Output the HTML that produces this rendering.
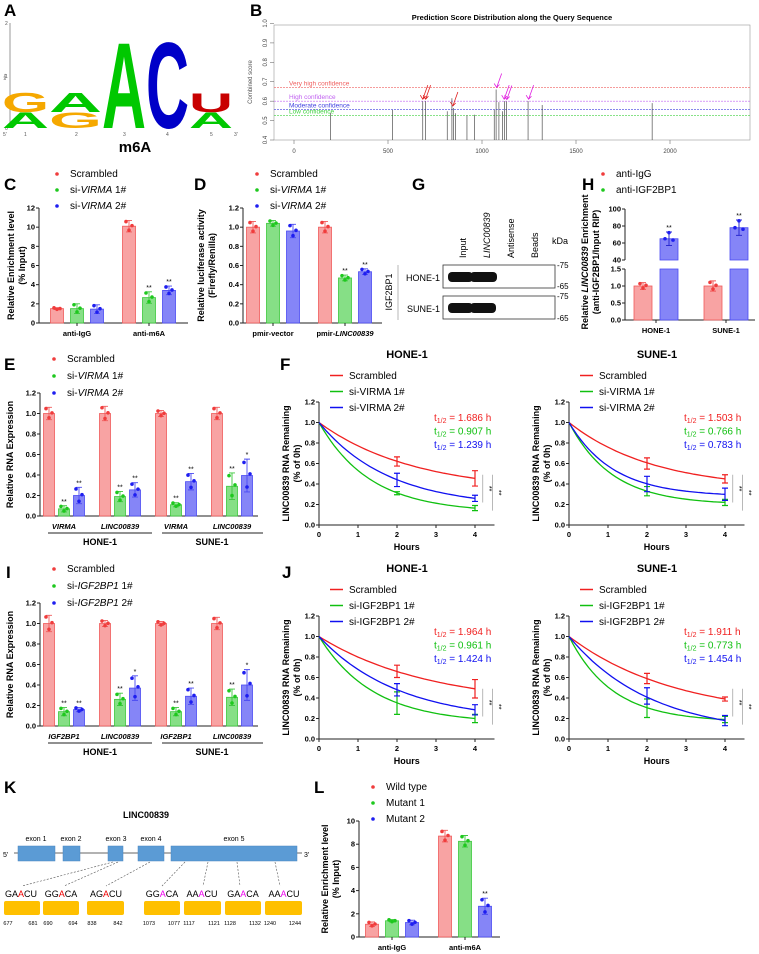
<!DOCTYPE html>
<html><head><meta charset="utf-8"><style>
body{margin:0;background:#fff}
svg{display:block;font-family:"Liberation Sans",Arial,sans-serif}
.pl{font-size:17px;font-weight:bold}
.tk{font-size:7.5px;font-weight:bold}
.lg{font-size:10px}
.at{font-size:9px;font-weight:bold}
</style></head><body>
<svg id="fig" xmlns="http://www.w3.org/2000/svg" width="759" height="954" viewBox="0 0 759 954">
<!-- Panel labels -->
<g>
<text class="pl" x="4" y="16">A</text>
<text class="pl" x="250" y="16">B</text>
<text class="pl" x="4" y="190">C</text>
<text class="pl" x="194" y="190">D</text>
<text class="pl" x="412" y="190">G</text>
<text class="pl" x="582" y="190">H</text>
<text class="pl" x="4" y="370">E</text>
<text class="pl" x="280" y="370">F</text>
<text class="pl" x="6" y="578">I</text>
<text class="pl" x="282" y="578">J</text>
<text class="pl" x="4" y="793">K</text>
<text class="pl" x="314" y="793">L</text>
</g>
<!-- Panel A: sequence logo -->
<g id="logo">
<line x1="10" y1="23" x2="10" y2="128" stroke="#555" stroke-width="0.6"/>
<text x="5" y="25" font-size="5" fill="#555">2</text><text x="5" y="78" font-size="5" fill="#555">1</text><text x="5" y="130" font-size="5" fill="#555">0</text>
<text x="6" y="80" font-size="4" fill="#555" transform="rotate(-90 6 80)">bits</text>
<text x="3" y="136" font-size="5" fill="#555">5'</text><text x="234" y="136" font-size="5" fill="#555">3'</text>
<text x="24" y="136" font-size="5" fill="#555">1</text><text x="75" y="136" font-size="5" fill="#555">2</text><text x="123" y="136" font-size="5" fill="#555">3</text><text x="166" y="136" font-size="5" fill="#555">4</text><text x="210" y="136" font-size="5" fill="#555">5</text>
<text x="135" y="152" font-size="15" font-weight="bold" text-anchor="middle">m6A</text>
</g>
<!-- Panel B -->
<g id="pb">
<text x="512" y="20" font-size="7.5" font-weight="bold" text-anchor="middle">Prediction Score Distribution along the Query Sequence</text>
<rect x="274" y="25" width="476" height="115" fill="none" stroke="#999" stroke-width="0.6"/>
<text x="252" y="82" font-size="6" fill="#555" text-anchor="middle" transform="rotate(-90 252 82)">Combined score</text>
</g>
<!-- Panel G blot -->
<g id="pg">
<text x="466" y="258" font-size="9" transform="rotate(-90 466 258)">Input</text>
<text x="490" y="258" font-size="9" font-style="italic" transform="rotate(-90 490 258)">LINC00839</text>
<text x="514" y="258" font-size="9" transform="rotate(-90 514 258)">Antisense</text>
<text x="538" y="258" font-size="9" transform="rotate(-90 538 258)">Beads</text>
<text x="552" y="244" font-size="9">kDa</text>
<rect x="443" y="265" width="112" height="23" fill="#fff" stroke="#333" stroke-width="0.8"/>
<rect x="443" y="296" width="112" height="23" fill="#fff" stroke="#333" stroke-width="0.8"/>
<rect x="448" y="272" width="25" height="10" rx="4" fill="#111"/><rect x="470" y="272" width="27" height="10" rx="4" fill="#111"/>
<rect x="448" y="303" width="25" height="10" rx="4" fill="#111"/><rect x="470" y="303" width="26" height="10" rx="4" fill="#111"/>
<text x="440" y="281" font-size="9" text-anchor="end">HONE-1</text>
<text x="440" y="312" font-size="9" text-anchor="end">SUNE-1</text>
<line x1="398" y1="265" x2="398" y2="320" stroke="#999" stroke-width="0.7"/>
<text x="392" y="292" font-size="9" text-anchor="middle" transform="rotate(-90 392 292)">IGF2BP1</text>
<g font-size="8"><text x="557" y="268">-75</text><text x="557" y="289">-65</text><text x="557" y="299">-75</text><text x="557" y="321">-65</text></g>
</g>
<!-- Panel K -->
<g id="pk">
<text x="146" y="818" font-size="9" font-weight="bold" text-anchor="middle">LINC00839</text>
<line x1="14" y1="853" x2="302" y2="853" stroke="#666" stroke-width="1"/>
<text x="3" y="857" font-size="7">5'</text><text x="304" y="857" font-size="7">3'</text>
<g fill="#5b9bd5" stroke="#4a86c0" stroke-width="0.5">
<rect x="18" y="846" width="37" height="15"/>
<rect x="63" y="846" width="17" height="15"/>
<rect x="108" y="846" width="15" height="15"/>
<rect x="138" y="846" width="26" height="15"/>
<rect x="171" y="846" width="126" height="15"/>
</g>
<g font-size="7" text-anchor="middle"><text x="36" y="841">exon 1</text><text x="71" y="841">exon 2</text><text x="116" y="841">exon 3</text><text x="151" y="841">exon 4</text><text x="234" y="841">exon 5</text></g>
<g stroke="#555" stroke-width="0.6" stroke-dasharray="2,1.5" fill="none">
<line x1="113" y1="862" x2="22" y2="886"/><line x1="118" y1="862" x2="64" y2="886"/><line x1="150" y1="862" x2="106" y2="886"/>
<line x1="185" y1="862" x2="162" y2="886"/><line x1="208" y1="862" x2="203" y2="886"/><line x1="237" y1="862" x2="240" y2="886"/><line x1="275" y1="862" x2="280" y2="886"/>
</g>
<g font-size="9" text-anchor="middle">
<text x="21" y="897">GA<tspan fill="#e00">A</tspan>CU</text>
<text x="61" y="897">GG<tspan fill="#e00">A</tspan>CA</text>
<text x="106" y="897">AG<tspan fill="#e00">A</tspan>CU</text>
<text x="162" y="897">GG<tspan fill="#e0e">A</tspan>CA</text>
<text x="202" y="897">AA<tspan fill="#e0e">A</tspan>CU</text>
<text x="243" y="897">GA<tspan fill="#e0e">A</tspan>CA</text>
<text x="284" y="897">AA<tspan fill="#e0e">A</tspan>CU</text>
</g>
<g fill="#ffc000">
<rect x="4" y="901" width="36" height="14" rx="2"/><rect x="43" y="901" width="36" height="14" rx="2"/><rect x="87" y="901" width="37" height="14" rx="2"/>
<rect x="144" y="901" width="36" height="14" rx="2"/><rect x="184" y="901" width="37" height="14" rx="2"/><rect x="225" y="901" width="36" height="14" rx="2"/><rect x="265" y="901" width="37" height="14" rx="2"/>
</g>
<g font-size="5.5" text-anchor="middle">
<text x="8" y="925">677</text><text x="33" y="925">681</text><text x="48" y="925">690</text><text x="73" y="925">694</text><text x="92" y="925">838</text><text x="118" y="925">842</text>
<text x="149" y="925">1073</text><text x="174" y="925">1077</text><text x="189" y="925">1117</text><text x="214" y="925">1121</text><text x="230" y="925">1128</text><text x="255" y="925">1132</text><text x="270" y="925">1240</text><text x="295" y="925">1244</text>
</g>
</g>
</svg>
<script>
// ---------- DATA ----------
// Panel B
const B_positions=[195,525,685,700,815,840,848,860,920,960,1065,1075,1090,1110,1120,1130,1245,1320,1905];
const B_scores=[0.54,0.555,0.60,0.60,0.548,0.615,0.565,0.538,0.527,0.53,0.555,0.66,0.595,0.548,0.60,0.598,0.60,0.58,0.59];
const B_thresholds=[0.67,0.60,0.557,0.525];
const B_thresholdLabels=['Very high confidence','High confidence','Moderate confidence','Low confidence'];
const B_yTicks=[0.4,0.5,0.6,0.7,0.8,0.9,1.0];
const B_xTicks=[0,500,1000,1500,2000];
const B_redArrows=[685,700,845];
const B_magArrows=[1078,1118,1132,1248];
// Panel C
const C_cats=['anti-IgG','anti-m6A'];
const C_scr=[1.5,10.1], C_si1=[1.5,2.65], C_si2=[1.45,3.4];
const C_err_scr=[0.1,0.6], C_err_si1=[0.5,0.6], C_err_si2=[0.45,0.45];
const C_stars_si1=['','**'], C_stars_si2=['','**'];
const C_ticks=[0,2,4,6,8,10,12];
// Panel D
const D_cats=['pmir-vector','pmir-LINC00839'];
const D_scr=[1.0,1.0], D_si1=[1.04,0.47], D_si2=[0.96,0.535];
const D_err_scr=[0.06,0.06], D_err_si1=[0.03,0.03], D_err_si2=[0.07,0.03];
const D_stars_si1=['','**'], D_stars_si2=['','**'];
const D_ticks=[0,0.2,0.4,0.6,0.8,1.0,1.2];
// Panel H
const H_cats=['HONE-1','SUNE-1'];
const H_igg=[1.0,1.0], H_igf=[65,78];
const H_err_igg=[0.1,0.15], H_err_igf=[8,9];
const H_lowTicks=[0,0.5,1.0,1.5], H_highTicks=[40,60,80,100];
// Panel E
const E_genes=['VIRMA','LINC00839','VIRMA','LINC00839'];
const E_cells=['HONE-1','SUNE-1'];
const E_scr=[1.0,1.0,1.0,1.0], E_si1=[0.07,0.19,0.11,0.29], E_si2=[0.20,0.255,0.335,0.395];
const E_err_scr=[0.06,0.07,0.03,0.06], E_err_si1=[0.03,0.05,0.02,0.13], E_err_si2=[0.08,0.07,0.08,0.16];
const E_stars_si1=['**','**','**','**'], E_stars_si2=['**','**','**','*'];
const EI_ticks=[0,0.2,0.4,0.6,0.8,1.0,1.2];
// Panel I
const I_genes=['IGF2BP1','LINC00839','IGF2BP1','LINC00839'];
const I_scr=[1.0,1.0,1.0,1.0], I_si1=[0.14,0.26,0.14,0.28], I_si2=[0.16,0.37,0.29,0.40];
const I_err_scr=[0.08,0.03,0.02,0.06], I_err_si1=[0.04,0.06,0.04,0.08], I_err_si2=[0.02,0.12,0.08,0.15];
const I_stars_si1=['**','**','**','**'], I_stars_si2=['**','*','**','*'];
// Panel F/J decay
const decayHours=[0,2,4];
const F_hone_half=[1.686,0.907,1.239], F_sune_half=[1.503,0.766,0.783];
const F_hone_red=[1,0.62,0.455], F_hone_green=[1,0.31,0.165], F_hone_blue=[1,0.44,0.26];
const F_hone_red_err=[0,0.045,0.075], F_hone_green_err=[0,0.015,0.025], F_hone_blue_err=[0,0.065,0.03];
const F_sune_red=[1,0.60,0.45], F_sune_green=[1,0.33,0.22], F_sune_blue=[1,0.40,0.30];
const F_sune_red_err=[0,0.055,0.04], F_sune_green_err=[0,0.045,0.03], F_sune_blue_err=[0,0.075,0.06];
const J_hone_half=[1.964,0.961,1.424], J_sune_half=[1.911,0.773,1.454];
const J_hone_red=[1,0.66,0.49], J_hone_green=[1,0.35,0.20], J_hone_blue=[1,0.48,0.285];
const J_hone_red_err=[0,0.06,0.09], J_hone_green_err=[0,0.11,0.04], J_hone_blue_err=[0,0.06,0.05];
const J_sune_red=[1,0.59,0.39], J_sune_green=[1,0.30,0.19], J_sune_blue=[1,0.42,0.18];
const J_sune_red_err=[0,0.05,0.02], J_sune_green_err=[0,0.09,0.03], J_sune_blue_err=[0,0.08,0.05];
const decayTicksX=[0,1,2,3,4], decayTicksY=[0,0.2,0.4,0.6,0.8,1.0,1.2];
// Panel L
const L_cats=['anti-IgG','anti-m6A'];
const L_wt=[1.1,8.7], L_m1=[1.4,8.25], L_m2=[1.25,2.65];
const L_err_wt=[0.2,0.5], L_err_m1=[0.1,0.5], L_err_m2=[0.2,0.7];
const L_stars_m1=['',''], L_stars_m2=['','**'];
const L_ticks=[0,2,4,6,8,10];

// ---------- DRAWING ----------
const NS='http://www.w3.org/2000/svg';
const svg=document.getElementById('fig');
const FILL=['#f8a3a3','#86df86','#8585f7'], STROKE=['#f05a5a','#3cc83c','#4a4af2'], DOT=['#f03c3c','#1ec81e','#1e1ef0'];
const LINE=['#f02020','#10c010','#1010f0'];
function mk(tag,attrs,parent){const e=document.createElementNS(NS,tag);for(const k in attrs)e.setAttribute(k,attrs[k]);(parent||svg).appendChild(e);return e;}
function txt(s,x,y,attrs,parent){const t=mk('text',Object.assign({x:x,y:y},attrs||{}),parent);t.textContent=s;return t;}
function fmt(v,d){return v.toFixed(d);}

// Logo letters
(function(){
 const g=document.getElementById('logo');
 const L=[['G',2,49,92,112,'#f5a800'],['A',2,49,112,128,'#00c800'],['A',49,102,92,112,'#00c800'],['G',49,102,112,128,'#f5a800'],
 ['A',102,146,40,128,'#00c800'],['C',146,189,40,128,'#0000c8'],['U',189,233,93,112,'#c80000'],['A',189,233,112,128,'#00c800']];
 L.forEach(l=>{const w=l[2]-l[1],h=l[4]-l[3];const gw={A:72.2,C:72.2,G:77.8,U:72.2}[l[0]];
  const t=txt(l[0],0,0,{'font-size':100,'font-weight':'bold',fill:l[5],transform:`translate(${l[1]},${l[4]}) scale(${w/gw},${h/72})`},g);
  
  });
})();

// Panel B
(function(){
 const g=document.getElementById('pb');
 const x=v=>294+v*0.188, y=v=>140-(v-0.4)/0.6*116.5;
 B_yTicks.forEach(v=>{mk('line',{x1:270,x2:274,y1:y(v),y2:y(v),stroke:'#555','stroke-width':0.5},g);
  const t=txt(fmt(v,1),267,y(v),{'font-size':6,fill:'#444','text-anchor':'middle',transform:`rotate(-90 267 ${y(v)})`},g);
  
  });
 B_xTicks.forEach(v=>{mk('line',{x1:x(v),x2:x(v),y1:140,y2:144,stroke:'#555','stroke-width':0.5},g);
  const t=txt(String(v),x(v),153,{'font-size':6,fill:'#444','text-anchor':'middle'},g);
  
  });
 const tc=['#f06060','#c060f0','#4040e0','#40d040'];
 B_thresholds.forEach((v,i)=>{const l=mk('line',{x1:274,x2:750,y1:y(v),y2:y(v),stroke:tc[i],'stroke-width':0.6,'stroke-dasharray':'2,1'},g);
  
  
  const t=txt(B_thresholdLabels[i],289,y(v)-2,{'font-size':6.5,fill:tc[i]},g);
  
  });
 B_positions.forEach((p,i)=>{const l=mk('line',{x1:x(p),x2:x(p),y1:140,y2:y(B_scores[i]),stroke:'#333','stroke-width':0.6},g);
  
  });
 function arrow(p,col,yv){const xx=x(p),yy=y(yv)-2;const l=mk('path',{d:`M${xx+5} ${yy-14} L${xx} ${yy} M${xx-2.5} ${yy-4} L${xx} ${yy} L${xx+2.8} ${yy-3}`,stroke:col,'stroke-width':0.8,fill:'none'},g);
  
  }
 B_redArrows.forEach(p=>{let i=B_positions.reduce((b,q,k)=>Math.abs(q-p)<Math.abs(B_positions[b]-p)?k:b,0);arrow(p,'#e02020',B_scores[i]);});
 B_magArrows.forEach(p=>{let i=B_positions.reduce((b,q,k)=>Math.abs(q-p)<Math.abs(B_positions[b]-p)?k:b,0);arrow(p,'#e020e0',B_scores[i]);});
})();

function legendDots(x,y0,step,labels,italics){labels.forEach((s,i)=>{
 const c=mk('circle',{cx:x,cy:y0+i*step-3,r:1.8,fill:DOT[i]});
 
 
 const t=mk('text',{x:x+13,y:y0+i*step,'font-size':10});
 
 
 if(italics&&italics[i]){const a=mk('tspan',{},t);a.textContent=italics[i][0];const b=mk('tspan',{'font-style':'italic'},t);b.textContent=italics[i][1];const c2=mk('tspan',{},t);c2.textContent=italics[i][2];}
 else t.textContent=s;});}
function legendLines(x,y0,step,labels){labels.forEach((s,i)=>{
 const l=mk('line',{x1:x,x2:x+13,y1:y0+i*step-3.5,y2:y0+i*step-3.5,stroke:LINE[i],'stroke-width':1.5});
 
 
 const t=txt(s,x+19,y0+i*step,{'font-size':10});
 
 });}

// generic bar chart
function barChart(o){
 const y=v=>o.y0-(v/o.vmax)*(o.y0-o.yt);
 mk('line',{x1:o.ax,x2:o.ax,y1:o.yt,y2:o.y0,stroke:'#222','stroke-width':1});
 mk('line',{x1:o.ax,x2:o.xEnd,y1:o.y0,y2:o.y0,stroke:'#222','stroke-width':1});
 o.ticks.forEach(v=>{mk('line',{x1:o.ax-3,x2:o.ax,y1:y(v),y2:y(v),stroke:'#222','stroke-width':1});
  const t=txt(fmt(v,o.dec),o.ax-4,y(v)+2.5,{class:'tk','text-anchor':'end'});
  
  });
 o.series.forEach((s,si)=>{s.vals.forEach((v,gi)=>{
  const cx=o.firstX+gi*o.gStep+si*o.sStep;
  const r=mk('rect',{x:cx-o.bw/2,y:y(v),width:o.bw,height:o.y0-y(v),fill:FILL[si],stroke:STROKE[si],'stroke-width':0.8});
  
  
  const e=s.errs[gi];
  const eb=mk('path',{d:`M${cx} ${y(v+e)} V${y(Math.max(0,v-e))} M${cx-3} ${y(v+e)} H${cx+3} M${cx-3} ${y(Math.max(0,v-e))} H${cx+3}`,stroke:STROKE[si],'stroke-width':0.9,fill:'none'});
  
  
  [[-3,v+e*0.8],[0,Math.max(0,v-e*0.7)],[3,v+e*0.1]].forEach(p=>{
   const d=mk('circle',{cx:cx+p[0],cy:y(p[1]),r:1.8,fill:DOT[si]});
   
   });
  if(s.stars&&s.stars[gi]){const t=txt(s.stars[gi],cx,y(v+e)-2,{'font-size':7,'text-anchor':'middle'});
   
   }
 });});
 if(o.cats)o.cats.forEach((c,gi)=>{const cx=o.firstX+gi*o.gStep+o.sStep*(o.series.length-1)/2;
  mk('line',{x1:cx,x2:cx,y1:o.y0,y2:o.y0+3,stroke:'#222','stroke-width':1});
  const t=mk('text',{x:cx,y:o.y0+13,class:'tk','text-anchor':'middle','font-size':7.5});
  
  
  if(o.catItal&&o.catItal[gi]){const a=mk('tspan',{},t);a.textContent=o.catItal[gi][0];const b=mk('tspan',{'font-style':'italic'},t);b.textContent=o.catItal[gi][1];}
  else t.textContent=c;});
 o.ylab.forEach((s,i)=>{const xx=o.ylx+i*11,yy=(o.yt+o.y0)/2;
  const t=mk('text',{x:xx,y:yy,class:'at','text-anchor':'middle',transform:`rotate(-90 ${xx} ${yy})`});
  
  
  if(Array.isArray(s)){s.forEach((p,k)=>{const ts=mk('tspan',k%2?{'font-style':'italic'}:{},t);ts.textContent=p;});}else t.textContent=s;});
 return y;
}

// C
legendDots(57,177,16,['Scrambled','si-VIRMA 1#','si-VIRMA 2#'],[null,['si-','VIRMA',' 1#'],['si-','VIRMA',' 2#']]);
barChart({ax:39,y0:323,yt:208,vmax:12,ticks:C_ticks,dec:0,firstX:57,gStep:72,sStep:20,bw:13,xEnd:188,
 series:[{vals:C_scr,errs:C_err_scr},{vals:C_si1,errs:C_err_si1,stars:C_stars_si1},{vals:C_si2,errs:C_err_si2,stars:C_stars_si2}],
 cats:C_cats,ylab:['Relative Enrichment level','(% Input)'],ylx:14});
// D
legendDots(257,177,16,['Scrambled','si-VIRMA 1#','si-VIRMA 2#'],[null,['si-','VIRMA',' 1#'],['si-','VIRMA',' 2#']]);
barChart({ax:243,y0:323,yt:208,vmax:1.2,ticks:D_ticks,dec:1,firstX:253,gStep:72,sStep:20,bw:13,xEnd:382,
 series:[{vals:D_scr,errs:D_err_scr},{vals:D_si1,errs:D_err_si1,stars:D_stars_si1},{vals:D_si2,errs:D_err_si2,stars:D_stars_si2}],
 cats:D_cats,catItal:[null,['pmir-','LINC00839']],ylab:['Relative luciferase activity','(Firefly/Renilla)'],ylx:204});

// H broken axis
(function(){
 const ax=625, yl=v=>320-v/1.5*51, yh=v=>260-(v-40)/60*51;
 legendDots(603,177,16,['anti-IgG','anti-IGF2BP1']);
 mk('line',{x1:ax,x2:ax,y1:yl(1.5),y2:320,stroke:'#222','stroke-width':1});
 mk('line',{x1:ax,x2:ax,y1:yh(100),y2:yh(40),stroke:'#222','stroke-width':1});
 mk('line',{x1:ax,x2:755,y1:320,y2:320,stroke:'#222','stroke-width':1});
 H_lowTicks.forEach(v=>{mk('line',{x1:ax-3,x2:ax,y1:yl(v),y2:yl(v),stroke:'#222'});const t=txt(fmt(v,1),ax-4,yl(v)+2.5,{class:'tk','text-anchor':'end'});});
 H_highTicks.forEach(v=>{mk('line',{x1:ax-3,x2:ax,y1:yh(v),y2:yh(v),stroke:'#222'});const t=txt(String(v),ax-4,yh(v)+2.5,{class:'tk','text-anchor':'end'});});
 H_cats.forEach((c,gi)=>{const rx=643+gi*70, bx=669+gi*70;
  const r=mk('rect',{x:rx-9,y:yl(H_igg[gi]),width:18,height:320-yl(H_igg[gi]),fill:FILL[0],stroke:STROKE[0],'stroke-width':0.8});
  
  
  const e=H_err_igg[gi];mk('path',{d:`M${rx} ${yl(H_igg[gi]+e)} V${yl(H_igg[gi]-e)} M${rx-3} ${yl(H_igg[gi]+e)} H${rx+3} M${rx-3} ${yl(H_igg[gi]-e)} H${rx+3}`,stroke:STROKE[0],fill:'none'});
  [[-3,H_igg[gi]+e*0.7],[0,H_igg[gi]-e*0.6],[3,H_igg[gi]+0.02]].forEach(p=>{const d=mk('circle',{cx:rx+p[0],cy:yl(p[1]),r:1.8,fill:DOT[0]});});
  const b1=mk('rect',{x:bx-9,y:yl(1.5),width:18,height:320-yl(1.5),fill:FILL[2],stroke:STROKE[2],'stroke-width':0.8});
  
  
  const b2=mk('rect',{x:bx-9,y:yh(H_igf[gi]),width:18,height:yh(40)-yh(H_igf[gi]),fill:FILL[2],stroke:STROKE[2],'stroke-width':0.8});
  
  
  const f=H_err_igf[gi],v=H_igf[gi];mk('path',{d:`M${bx} ${yh(v+f)} V${yh(v-f)} M${bx-3} ${yh(v+f)} H${bx+3} M${bx-3} ${yh(v-f)} H${bx+3}`,stroke:'#2a2ad0',fill:'none'});
  [[-4,v],[0,v+f*0.9],[4,v-f*0.2]].forEach(p=>{const d=mk('circle',{cx:bx+p[0],cy:yh(p[1]),r:1.8,fill:DOT[2]});});
  const s=txt('**',bx,yh(v+f)-2,{'font-size':7,'text-anchor':'middle'});
  const cx=(rx+bx)/2;mk('line',{x1:cx,x2:cx,y1:320,y2:323,stroke:'#222'});
  const t=txt(c,cx,333,{class:'tk','text-anchor':'middle'});});
 [['Relative ',['LINC00839'],' Enrichment'],['(anti-IGF2BP1/Input RIP)']].forEach((s,i)=>{const xx=588+i*11,yy=262;
  const t=mk('text',{x:xx,y:yy,class:'at','text-anchor':'middle',transform:`rotate(-90 ${xx} ${yy})`});
  
  
  s.forEach(p=>{const ts=mk('tspan',Array.isArray(p)?{'font-style':'italic'}:{},t);ts.textContent=Array.isArray(p)?p[0]:p;});});
})();

// E and I
function geneChart(dy,genes,scr,si1,si2,e0,e1,e2,s1,s2,legend){
 legendDots(54,362+dy,17,legend.map(l=>l[0]+l[1]+l[2]),legend);
 barChart({ax:40,y0:516+dy,yt:393+dy,vmax:1.2,ticks:EI_ticks,dec:1,firstX:49,gStep:56,sStep:15,bw:11,xEnd:258,
  series:[{vals:scr,errs:e0},{vals:si1,errs:e1,stars:s1},{vals:si2,errs:e2,stars:s2}],ylab:['Relative RNA Expression'],ylx:13});
 genes.forEach((g,i)=>{const t=txt(g,64+i*56,529+dy,{class:'tk','font-size':8,'font-style':'italic','text-anchor':'middle'});
  
  });
 E_cells.forEach((c,i)=>{mk('line',{x1:48+i*114,x2:152+i*111,y1:533+dy,y2:533+dy,stroke:'#222'});
  const t=txt(c,100+i*112,545+dy,{class:'at','text-anchor':'middle'});
  
  });
}
geneChart(0,E_genes,E_scr,E_si1,E_si2,E_err_scr,E_err_si1,E_err_si2,E_stars_si1,E_stars_si2,[['Scrambled','',''],['si-','VIRMA',' 1#'],['si-','VIRMA',' 2#']]);
geneChart(210,I_genes,I_scr,I_si1,I_si2,I_err_scr,I_err_si1,I_err_si2,I_stars_si1,I_stars_si2,[['Scrambled','',''],['si-','IGF2BP1',' 1#'],['si-','IGF2BP1',' 2#']]);

// Decay charts
function decay(ax,dy,title,half,series,errs,legend){
 const y0=525+dy, X=t=>ax+t*39, Y=v=>y0-v/0.2*20.5;
 const tt=txt(title,ax+88,358+dy,{'font-size':11,'font-weight':'bold','text-anchor':'middle'});
 
 
 legendLines(ax+11,379+dy,16,legend);
 mk('line',{x1:ax,x2:ax,y1:Y(1.2),y2:y0,stroke:'#222'});mk('line',{x1:ax,x2:X(4.5),y1:y0,y2:y0,stroke:'#222'});
 decayTicksY.forEach(v=>{mk('line',{x1:ax-3,x2:ax,y1:Y(v),y2:Y(v),stroke:'#222'});const t=txt(fmt(v,1),ax-4,Y(v)+2.5,{class:'tk','text-anchor':'end'});});
 decayTicksX.forEach(v=>{mk('line',{x1:X(v),x2:X(v),y1:y0,y2:y0+3,stroke:'#222'});const t=txt(String(v),X(v),y0+12,{class:'tk','text-anchor':'middle'});});
 const h=txt('Hours',X(2.25),y0+25,{class:'at','font-size':10,'text-anchor':'middle'});
 [['LINC00839 RNA Remaining',ax-30],['(% of 0h)',ax-19]].forEach(s=>{const yy=Y(0.6);const t=txt(s[0],s[1],yy,{class:'at','font-size':9.5,'text-anchor':'middle',transform:`rotate(-90 ${s[1]} ${yy})`});});
 series.forEach((s,i)=>{const k=Math.LN2/half[i], e4=Math.exp(-k*4), p=(s[2]-e4)/(1-e4);
  let d='';for(let t=0;t<=4.001;t+=0.1){const v=p+(1-p)*Math.exp(-k*t);d+=(t?'L':'M')+X(t).toFixed(1)+' '+Y(v).toFixed(1);}
  const l=mk('path',{d:d,stroke:LINE[i],'stroke-width':1.3,fill:'none'});
  
  
  decayHours.forEach((hh,j)=>{if(!errs[i][j])return;const x=X(hh),v=s[j],e=errs[i][j];
   const eb=mk('path',{d:`M${x} ${Y(v+e)} V${Y(v-e)} M${x-3} ${Y(v+e)} H${x+3} M${x-3} ${Y(v-e)} H${x+3}`,stroke:LINE[i],'stroke-width':1.2,fill:'none'});
   
   });
  const ht=mk('text',{x:ax+115,y:421+dy+i*13.5,'font-size':10,fill:LINE[i]});
  
  
  const a=mk('tspan',{},ht);a.textContent='t';const b=mk('tspan',{'font-size':7,dy:2},ht);b.textContent='1/2';const c=mk('tspan',{dy:-2},ht);c.textContent=' = '+half[i].toFixed(3)+' h';
 });
 [[X(4.2),Y(0.49),Y(0.22)],[X(4.45),Y(0.49),Y(0.14)]].forEach(b=>{mk('line',{x1:b[0],x2:b[0],y1:b[1],y2:b[2],stroke:'#888','stroke-width':0.6});
  const s=txt('**',b[0]+4,(b[1]+b[2])/2,{'font-size':7,'text-anchor':'middle',transform:`rotate(90 ${b[0]+4} ${(b[1]+b[2])/2})`});
  
  });
}
decay(319,0,'HONE-1',F_hone_half,[F_hone_red,F_hone_green,F_hone_blue],[F_hone_red_err,F_hone_green_err,F_hone_blue_err],['Scrambled','si-VIRMA 1#','si-VIRMA 2#']);
decay(569,0,'SUNE-1',F_sune_half,[F_sune_red,F_sune_green,F_sune_blue],[F_sune_red_err,F_sune_green_err,F_sune_blue_err],['Scrambled','si-VIRMA 1#','si-VIRMA 2#']);
decay(319,214,'HONE-1',J_hone_half,[J_hone_red,J_hone_green,J_hone_blue],[J_hone_red_err,J_hone_green_err,J_hone_blue_err],['Scrambled','si-IGF2BP1 1#','si-IGF2BP1 2#']);
decay(569,214,'SUNE-1',J_sune_half,[J_sune_red,J_sune_green,J_sune_blue],[J_sune_red_err,J_sune_green_err,J_sune_blue_err],['Scrambled','si-IGF2BP1 1#','si-IGF2BP1 2#']);

// L
legendDots(373,790,16,['Wild type','Mutant 1','Mutant 2']);
barChart({ax:359,y0:937,yt:821,vmax:10,ticks:L_ticks,dec:0,firstX:372,gStep:73,sStep:20,bw:13,xEnd:500,
 series:[{vals:L_wt,errs:L_err_wt},{vals:L_m1,errs:L_err_m1,stars:L_stars_m1},{vals:L_m2,errs:L_err_m2,stars:L_stars_m2}],
 cats:L_cats,ylab:['Relative Enrichment level','(% Input)'],ylx:328});
</script>
</body></html>
